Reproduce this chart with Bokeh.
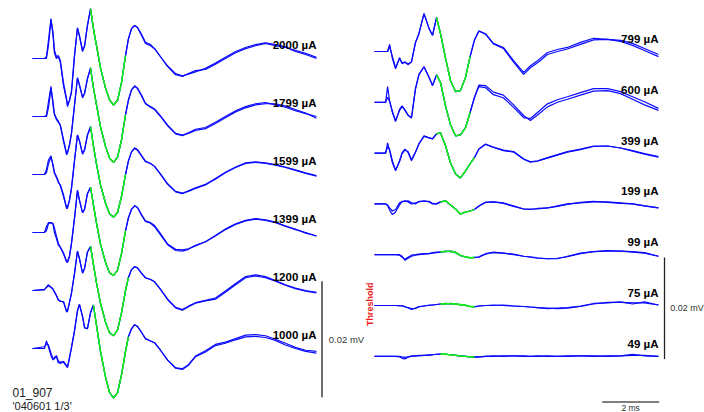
from bokeh.plotting import figure
from bokeh.models import Range1d, ColumnDataSource, Label
from bokeh.embed import file_html
from bokeh.resources import INLINE
from bokeh.core.properties import value
import math

# ---------------- data (ms, µV) ----------------
t_left = [0.0, 0.42, 0.49, 0.56, 0.65, 0.72, 0.77, 0.84, 0.91, 0.98,
          1.09, 1.2, 1.23, 1.3, 1.37, 1.48, 1.58, 1.65, 1.76, 1.83,
          1.93, 2.04, 2.14, 2.25, 2.39, 2.57, 2.71, 2.85, 2.99, 3.13,
          3.27, 3.37, 3.48, 3.59, 3.69, 3.83, 3.97, 4.15, 4.29, 4.5,
          4.75, 5.03, 5.27, 5.48, 5.73, 6.08, 6.43, 6.78, 7.14, 7.49,
          7.84, 8.19, 8.54, 8.89, 9.24, 9.6, 9.98]

t_right = [0.0, 0.39, 0.46, 0.53, 0.63, 0.74, 0.88, 0.97, 1.07, 1.18,
           1.3, 1.44, 1.56, 1.74, 1.92, 2.04, 2.18, 2.32, 2.5, 2.67,
           2.85, 3.02, 3.2, 3.36, 3.51, 3.67, 3.9, 4.18, 4.53, 4.89,
           5.24, 5.48, 5.73, 6.08, 6.43, 6.78, 7.24, 7.7, 8.19, 8.65,
           9.07, 9.49, 9.98]

left_labels = ["2000 µA", "1799 µA", "1599 µA", "1399 µA", "1200 µA", "1000 µA"]
right_labels = ["799 µA", "600 µA", "399 µA", "199 µA", "99 µA", "75 µA", "49 µA"]

L2000_a = [0, 0, 0.3, 3.1, 6.9, 4.0, 1.0, 0, 0.3, -0.7,
           -4.7, -7.2, -8.3, -7.2, -5.9, 0.5, 5.3, 4.0, 1.4, 2.2,
           5.7, 8.6, 5.2, 2.2, -1.6, -5.2, -7.2, -8.1, -7.2, -4.1,
           0.5, 3.4, 5.2, 5.7, 5.3, 4.0, 2.6, 2.2, 1.7, 0.3,
           -1.4, -2.8, -3.1, -2.6, -2.1, -1.9, -1.0, 0, 1.0, 1.7,
           2.2, 2.6, 2.2, 1.9, 1.4, 0.9, 0.2]
L2000_b = [0, 0, 0, 2.2, 6.6, 4.6, 1.5, 0.3, 0.5, -0.4,
           -4.2, -7.0, -8.0, -7.3, -5.6, 0.8, 5.2, 3.8, 1.2, 2.1,
           5.6, 8.5, 5.2, 2.2, -1.6, -5.1, -7.1, -8.0, -7.2, -4.1,
           0.5, 3.3, 5.1, 5.7, 5.4, 4.2, 2.8, 2.4, 1.7, 0.3,
           -1.3, -2.6, -3.0, -2.7, -2.3, -1.7, -0.8, 0.2, 1.2, 1.9,
           2.4, 2.7, 2.4, 2.0, 1.2, 0.7, 0.0]
L1799_a = [0, 0, 0.2, 2.5, 5.2, 2.0, 0.3, -0.5, -1.0, -1.5,
           -4.0, -6.4, -6.2, -5.0, -3.0, 2.0, 6.7, 5.5, 3.3, 4.0,
           6.5, 8.4, 5.0, 2.0, -1.8, -5.2, -7.2, -7.9, -7.0, -4.0,
           0.3, 2.8, 4.6, 5.2, 4.8, 3.6, 2.2, 1.6, 1.2, 0,
           -1.6, -3.0, -3.3, -2.8, -2.2, -1.9, -1.0, 0, 1.0, 1.7,
           2.2, 2.4, 2.0, 1.6, 1.0, 0.5, 0]
L1799_b = [0, 0, 0, 1.5, 4.8, 2.6, 0.5, -0.3, -0.8, -1.6,
           -4.3, -6.6, -6.3, -4.8, -2.8, 2.2, 6.6, 5.4, 3.2, 4.0,
           6.5, 8.3, 5.0, 2.0, -1.8, -5.2, -7.2, -7.9, -7.0, -4.0,
           0.3, 2.8, 4.6, 5.3, 4.9, 3.7, 2.3, 1.7, 1.3, 0.1,
           -1.5, -2.9, -3.2, -2.9, -2.4, -2.1, -1.2, -0.2, 0.8, 1.5,
           2.0, 2.2, 2.2, 1.8, 1.2, 0.6, -0.3]
L1599_a = [0, 0, 0.8, 2.5, 3.2, 1.5, 0.2, -0.5, -1.4, -1.8,
           -3.5, -5.7, -5.6, -4.5, -2.5, 2.5, 6.8, 5.8, 3.6, 4.3,
           6.8, 8.3, 5.0, 1.8, -1.8, -5.0, -6.8, -7.4, -6.6, -3.8,
           0, 2.3, 3.9, 4.5, 4.2, 3.2, 2.2, 1.9, 1.4, 0,
           -1.7, -3.0, -3.3, -2.8, -2.3, -1.7, -0.8, 0.3, 1.2, 1.9,
           2.1, 1.9, 1.6, 1.2, 0.7, 0.2, -0.3]
L1599_b = [0, 0, 0.3, 1.8, 3.0, 1.8, 0.4, -0.3, -1.2, -2.0,
           -3.8, -5.9, -5.8, -4.4, -2.3, 2.6, 6.8, 5.8, 3.5, 4.2,
           6.7, 8.2, 5.0, 1.8, -1.8, -5.0, -6.8, -7.3, -6.5, -3.7,
           0, 2.3, 3.9, 4.6, 4.3, 3.3, 2.3, 1.9, 1.4, 0.1,
           -1.6, -2.9, -3.2, -2.9, -2.4, -1.8, -0.7, 0.4, 1.3, 2.0,
           2.2, 2.0, 1.7, 1.3, 0.8, 0.3, -0.2]
L1399_a = [0, 0, 1.0, 1.7, 1.7, 1.4, 0, -1.0, -2.2, -2.5,
           -3.5, -5.0, -5.2, -4.2, -2.0, 2.5, 7.3, 5.6, 3.4, 4.0,
           6.7, 7.8, 4.8, 1.6, -2.0, -5.2, -7.0, -7.4, -6.5, -3.6,
           0.3, 2.5, 4.0, 4.6, 4.3, 3.1, 2.0, 1.7, 1.2, -0.2,
           -2.0, -2.9, -3.0, -2.8, -2.3, -1.6, -0.6, 0.5, 1.4, 2.0,
           2.3, 2.1, 1.7, 1.1, 0.5, 0, -0.6]
L1399_b = [0, 0, 0.3, 1.5, 1.7, 1.6, 0.8, -0.6, -1.9, -2.6,
           -3.7, -5.1, -5.0, -4.0, -1.8, 2.7, 7.2, 5.6, 3.4, 4.0,
           6.7, 7.8, 4.8, 1.6, -2.0, -5.2, -7.0, -7.4, -6.5, -3.6,
           0.3, 2.5, 4.0, 4.6, 4.3, 3.0, 1.9, 1.6, 1.0, -0.4,
           -2.1, -3.1, -3.2, -2.9, -2.2, -1.6, -0.5, 0.6, 1.5, 2.1,
           2.4, 2.2, 1.8, 1.1, 0.6, -0.1, -0.6]
L1200_a = [0, 0.2, 0.5, 0.8, 0.6, 0.3, -0.2, -0.8, -1.6, -1.9,
           -1.9, -3.7, -3.6, -2.0, -0.5, 3.0, 6.8, 5.5, 3.0, 3.8,
           6.6, 7.6, 4.5, 1.3, -2.2, -5.5, -7.3, -7.8, -6.8, -3.8,
           0, 2.2, 3.6, 4.1, 3.9, 3.0, 2.2, 1.9, 1.5, 0.2,
           -1.6, -3.0, -3.4, -2.8, -2.2, -1.8, -1.5, -0.3, 1.0, 2.2,
           2.5, 2.2, 1.6, 0.9, 0.3, -0.1, -0.4]
L1200_b = [0, 0.1, 0.6, 1.0, 0.5, 0.2, -0.3, -0.9, -1.7, -1.8,
           -2.0, -3.6, -3.5, -2.1, -0.4, 3.1, 6.8, 5.5, 3.0, 3.8,
           6.6, 7.6, 4.5, 1.3, -2.2, -5.5, -7.3, -7.8, -6.8, -3.8,
           0, 2.2, 3.6, 4.1, 3.9, 3.0, 2.2, 1.9, 1.5, 0.2,
           -1.5, -2.9, -3.3, -2.7, -2.1, -1.7, -1.3, -0.1, 1.2, 2.4,
           2.7, 2.4, 1.7, 1.0, 0.4, 0, -0.3]
L1000_a = [0, 0, 1.3, 0.3, -1.2, -2.0, -1.5, -1.4, -2.5, -2.3,
           -2.4, -3.1, -3.2, -1.5, 0.2, 3.2, 6.5, 7.6, 5.5, 3.6,
           3.4, 6.2, 7.5, 4.0, -0.5, -5.0, -7.6, -8.5, -7.6, -4.5,
           -0.5, 2.0, 3.4, 4.1, 3.8, 2.8, 1.7, 1.3, 1.0, -0.3,
           -2.0, -3.4, -3.6, -2.9, -1.4, -0.6, 0.5, 0.9, 1.5, 2.0,
           2.1, 1.9, 1.4, 0.6, 0, -0.5, -0.8]
L1000_b = [0, 0.3, 0.8, 0.6, -0.8, -1.7, -1.8, -1.2, -2.2, -2.6,
           -2.2, -3.0, -3.3, -1.7, 0.1, 3.1, 6.5, 7.6, 5.5, 3.6,
           3.4, 6.2, 7.5, 4.0, -0.5, -5.0, -7.6, -8.5, -7.6, -4.5,
           -0.5, 2.0, 3.4, 4.1, 3.8, 2.8, 1.7, 1.3, 1.0, -0.3,
           -2.0, -3.3, -3.5, -2.8, -1.3, -0.4, 0.7, 1.1, 1.7, 2.3,
           2.4, 2.2, 1.6, 0.9, 0.2, -0.3, -0.5]

R799_a = [0, 0, 0, 1.4, -1.4, -3.4, -1.2, -2.4, -2.0, -2.6,
          -2.0, 1.8, 3.5, 7.5, 4.5, 3.2, 6.7, 3.5, -1.4, -5.7,
          -7.9, -7.7, -5.1, -1.0, 2.2, 4.1, 3.5, 1.6, 0.8, -1.8,
          -4.1, -2.8, -1.8, -0.2, 0.4, 0.8, 1.8, 2.6, 2.4, 2.2,
          1.6, 0.6, -0.6]
R799_b = [0, 0, 0, 1.0, -1.0, -3.2, -1.4, -2.2, -2.2, -2.4,
          -2.1, 1.7, 3.5, 7.4, 4.5, 3.2, 6.6, 3.5, -1.4, -5.7,
          -7.9, -7.7, -5.1, -1.0, 2.2, 4.0, 3.4, 1.5, 0.6, -2.1,
          -4.5, -3.2, -2.2, -0.6, 0, 0.5, 1.4, 2.3, 2.4, 2.0,
          1.2, 0.2, -1.0]
R600_a = [0, 0, 3.1, 0.3, -2.0, -3.8, -1.4, -0.7, -1.6, -2.6,
          -3.0, 2.7, 5.5, 7.0, 4.9, 3.3, 5.4, 3.9, -0.8, -4.4,
          -6.6, -6.4, -5.0, -2.0, 0.9, 3.1, 2.9, 1.5, 0.9, -1.0,
          -3.0, -3.2, -2.0, -0.3, 0.5, 1.1, 1.9, 2.7, 2.7, 2.1,
          1.1, 0.1, -1.2]
R600_b = [0, 0, 1.0, 0.2, -1.8, -3.6, -1.6, -0.8, -1.5, -2.5,
          -3.1, 2.6, 5.4, 7.0, 4.9, 3.3, 5.4, 3.9, -0.8, -4.4,
          -6.6, -6.4, -5.0, -2.0, 0.9, 3.4, 3.3, 2.0, 1.4, -0.5,
          -2.6, -3.6, -2.5, -0.9, 0, 0.6, 1.4, 2.2, 2.3, 1.7,
          0.6, -0.5, -1.6]
R399_a = [0, 0, 2.0, 0.5, -1.9, -3.5, -1.5, 0.1, 0.8, 0.1,
          -1.5, 0.1, 1.8, 3.4, 3.0, 2.8, 3.8, 4.0, 1.4, -1.9,
          -4.1, -4.9, -3.5, -2.1, -0.9, 0.8, 1.8, 1.2, 0.6, 0.3,
          -1.1, -1.7, -1.5, -0.9, -0.3, 0.3, 0.8, 1.4, 1.4, 1.0,
          0.5, -0.1, -0.7]
R399_b = [0, 0, 1.2, 0.8, -1.6, -3.3, -1.7, -0.1, 0.6, 0.3,
          -1.3, 0.2, 1.8, 3.3, 3.0, 2.8, 3.8, 4.0, 1.4, -1.9,
          -4.1, -4.9, -3.5, -2.1, -0.9, 0.8, 1.7, 1.1, 0.5, 0.2,
          -1.2, -1.8, -1.6, -1.0, -0.4, 0.2, 0.7, 1.3, 1.4, 1.0,
          0.4, -0.2, -0.8]
R199_a = [0, 0, -0.2, -0.8, -1.4, -1.1, 0.2, 0.4, 0.6, 0.4,
          0, 0.2, 0.4, 0.6, 0.4, 0, 0, 0.4, 0.6, -0.2,
          -1.0, -2.0, -1.6, -1.4, -1.1, -0.4, 0.3, 0.4, 0.2, -0.4,
          -1.0, -1.0, -1.0, -0.8, -0.4, 0, 0.2, 0.4, 0.4, 0.2,
          0, -0.4, -0.8]
R199_b = [0, 0, -0.3, -1.2, -2.1, -1.6, -0.2, 0.5, 0.5, 0.6,
          0.2, 0, 0.5, 0.5, 0.5, 0.1, 0, 0.4, 0.6, -0.2,
          -1.0, -2.0, -1.6, -1.4, -1.1, -0.4, 0.3, 0.4, 0.1, -0.5,
          -1.0, -1.1, -0.9, -0.8, -0.5, -0.1, 0.3, 0.5, 0.3, 0.1,
          0, -0.4, -0.8]
R99_a = [0, 0, 0, 0, 0, 0, 0, -0.3, -1.1, -0.7,
         -0.3, -0.1, 0, 0.1, 0.2, 0.3, 0.4, 0.5, 0.6, 0.7,
         0.5, -0.1, -0.5, -0.6, -0.6, -0.5, 0.1, 0.5, 0.3, 0,
         -0.3, -0.5, -0.7, -0.8, -0.8, -0.3, 0.3, 0.6, 0.7, 0.7,
         0.6, 0.4, -0.3]
R99_b = [0, 0, 0, 0, 0, 0, -0.1, -0.5, -0.9, -0.5,
         -0.1, 0, 0.1, 0.2, 0.2, 0.4, 0.5, 0.5, 0.7, 0.6,
         0.4, -0.2, -0.4, -0.6, -0.5, -0.4, 0.2, 0.4, 0.3, 0.1,
         -0.3, -0.4, -0.6, -0.8, -0.7, -0.4, 0.2, 0.6, 0.8, 0.7,
         0.5, 0.3, -0.3]
R75_a = [0, 0, 0, 0, 0, 0, -0.1, 0, -0.2, -0.5,
         -0.8, -0.5, -0.2, -0.1, 0, 0.1, 0.2, 0.3, 0.4, 0.3,
         0.3, 0.2, 0, -0.2, -0.3, -0.1, 0, 0.1, 0, -0.1,
         -0.2, -0.3, -0.4, -0.5, -0.6, -0.5, -0.2, 0.3, 0.6, 0.6,
         0.5, 0.5, 0.1]
R75_b = [0, 0, 0, 0, 0, 0, 0, -0.1, -0.3, -0.4,
         -0.6, -0.6, -0.3, -0.1, 0.1, 0.1, 0.2, 0.3, 0.3, 0.4,
         0.3, 0.1, 0.1, -0.2, -0.2, -0.1, 0, 0, 0.1, -0.1,
         -0.2, -0.3, -0.4, -0.6, -0.5, -0.4, -0.1, 0.4, 0.5, 0.7,
         0.3, 0.7, 0.1]
R49_a = [0, 0, 0, 0, 0, 0, -0.1, -0.4, -0.5, -0.2,
         0.1, 0.1, 0.2, 0.2, 0.3, 0.3, 0.4, 0.5, 0.4, 0.3,
         0.2, 0.1, 0, -0.1, -0.2, -0.1, 0, 0, 0.1, 0.1,
         0, 0, 0.1, 0, 0, 0.1, 0.1, 0, 0.1, 0.1,
         0.2, 0.2, 0]
R49_b = [0, 0, 0, 0, 0, 0, 0, -0.1, -0.2, -0.1,
         0, 0.1, 0.1, 0.2, 0.2, 0.3, 0.4, 0.4, 0.4, 0.3,
         0.2, 0.1, 0, -0.1, -0.1, -0.1, 0, 0.1, 0, 0.1,
         0.1, 0, 0, 0.1, 0, 0, 0.1, 0.1, 0, 0.1,
         0.4, 0.1, 0]

left_traces = [(L2000_a, L2000_b), (L1799_a, L1799_b), (L1599_a, L1599_b),
               (L1399_a, L1399_b), (L1200_a, L1200_b), (L1000_a, L1000_b)]
right_traces = [(R799_a, R799_b), (R600_a, R600_b), (R399_a, R399_b),
                (R199_a, R199_b), (R99_a, R99_b), (R75_a, R75_b), (R49_a, R49_b)]

# highlighted (green) window of each trace, ms
left_green = [(2.04, 3.27), (2.04, 3.27), (2.04, 3.27), (2.04, 3.27), (2.04, 3.37), (2.14, 3.37)]
right_green = [(2.18, 3.36), (2.18, 3.36), (2.18, 3.51), (2.32, 3.51), (2.32, 3.51), (2.32, 3.51), (2.32, 3.51)]

scale_mv = 0.02   # vertical scale bar, mV
scale_ms = 2.0    # horizontal scale bar, ms

# ---------------- layout ----------------
W, H = 704, 412
PX_MS = 28.45
L_PX_UV = 5.8
R_PX_UV = 5.08
X0_L, X0_R = 32, 374          # canvas px of t = 0 for each panel
Y0_L, Y0_R = 58, 51           # canvas px of the first baseline in each panel
STEP = 10.0                   # µV between stacked traces
R_OFF = (X0_R - X0_L) / PX_MS

BLUE = "#0a0aff"
GREEN = "#14f014"
FONT = "Liberation Sans"

p = figure(width=W, height=H, output_backend="svg", toolbar_location=None,
           x_range=Range1d(-X0_L / PX_MS, (W - X0_L) / PX_MS),
           y_range=Range1d(-(H - Y0_L) / L_PX_UV, Y0_L / L_PX_UV),
           x_axis_location=None, y_axis_location=None,
           min_border=0, outline_line_color=None,
           background_fill_color="white", border_fill_color="white")
p.extra_y_ranges = {"r": Range1d(-(H - Y0_R) / R_PX_UV, Y0_R / R_PX_UV)}
p.grid.grid_line_color = None


def draw(ts, pair, off, green, xoff, yname):
    g0, g1 = green
    for vals in pair:
        ys = [v - off for v in vals]
        xs = [t + xoff for t in ts]
        p.line(xs, ys, line_color=BLUE, line_width=1.2, y_range_name=yname)
    for vals in pair:
        idx = [i for i, t in enumerate(ts) if g0 - 1e-6 <= t <= g1 + 1e-6]
        p.line([ts[i] + xoff for i in idx], [vals[i] - off for i in idx],
               line_color=GREEN, line_width=1.3, y_range_name=yname)


for k, pair in enumerate(left_traces):
    draw(t_left, pair, STEP * k, left_green[k], 0.0, "default")
for k, pair in enumerate(right_traces):
    draw(t_right, pair, STEP * k, right_green[k], R_OFF, "r")

# stimulus labels
lab_l = ColumnDataSource(dict(x=[t_left[-1]] * len(left_labels),
                              y=[2.25 - STEP * k for k in range(len(left_labels))],
                              text=left_labels))
p.text(x="x", y="y", text="text", source=lab_l, text_align="right", text_baseline="middle",
       text_font=value(FONT), text_font_style="bold", text_font_size="11.5px", text_color="black")
lab_r = ColumnDataSource(dict(x=[t_right[-1] + R_OFF] * len(right_labels),
                              y=[2.45 - STEP * k for k in range(len(right_labels))],
                              text=right_labels))
p.text(x="x", y="y", text="text", source=lab_r, text_align="right", text_baseline="middle",
       text_font=value(FONT), text_font_style="bold", text_font_size="11.5px", text_color="black",
       y_range_name="r")

# vertical scale bars (0.02 mV = 20 µV)
bar_uv = scale_mv * 1000
xl = (321.5 - X0_L) / PX_MS
ytop_l = (Y0_L - 280.7) / L_PX_UV
p.line([xl, xl], [ytop_l, ytop_l - bar_uv], line_color="#4a4a4a", line_width=1.6)
p.add_layout(Label(x=xl + 0.24, y=ytop_l - bar_uv / 2, text="0.02 mV", text_font=FONT,
                   text_font_size="9.5px", text_color="#333333", text_baseline="middle"))

xr = (664 - X0_L) / PX_MS
ytop_r = (Y0_R - 257) / R_PX_UV
p.line([xr, xr], [ytop_r, ytop_r - bar_uv], line_color="#222222", line_width=1.3, y_range_name="r")
p.add_layout(Label(x=xr + 0.2, y=ytop_r - bar_uv / 2, y_range_name="r", text="0.02 mV",
                   text_font=FONT, text_font_size="9px", text_color="#333333",
                   text_baseline="middle"))

# horizontal 2 ms bar
xb0 = (601.7 - X0_L) / PX_MS
yb = (Y0_R - 401.5) / R_PX_UV
p.line([xb0, xb0 + scale_ms], [yb, yb], line_color="#555555", line_width=1.6, y_range_name="r")
p.add_layout(Label(x=xb0 + scale_ms / 2, y=yb - 0.25, y_range_name="r", text="2 ms",
                   text_font=FONT, text_font_size="8.5px", text_color="#333333",
                   text_align="center", text_baseline="top"))

# threshold marker
p.add_layout(Label(x=(369.3 - X0_L) / PX_MS, y=(Y0_L - 303.8) / L_PX_UV, text="Threshold",
                   angle=math.pi / 2, text_font=FONT, text_font_style="bold",
                   text_font_size="9px", text_color="#ee2222",
                   text_align="center", text_baseline="middle"))

# file identifiers
p.add_layout(Label(x=(12 - X0_L) / PX_MS, y=(Y0_L - 392) / L_PX_UV, text="01_907",
                   text_font=FONT, text_font_size="12px", text_color="#222222",
                   text_baseline="middle"))
p.add_layout(Label(x=(12 - X0_L) / PX_MS, y=(Y0_L - 399.5) / L_PX_UV, text="'040601 1/3'",
                   text_font=FONT, text_font_size="11px", text_color="#222222",
                   text_baseline="top"))

open("out.html", "w").write(file_html(p, INLINE))
